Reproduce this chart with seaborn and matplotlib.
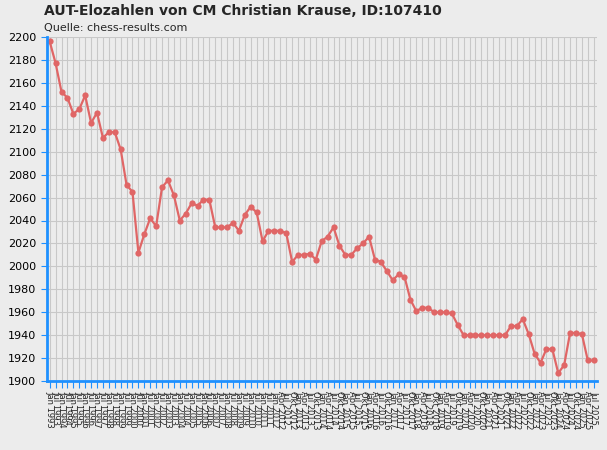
import matplotlib
matplotlib.use("Agg")
import matplotlib.pyplot as plt
import seaborn as sns
import pandas as pd

elo = [2196,2177,2152,2147,2133,2137,2149,2125,2134,2112,2117,2117,2102,2071,2065,2012,2028,2042,2035,2069,
       2075,2062,2040,2046,2055,2053,2058,2058,2034,2034,2034,2038,2031,2045,2052,2047,2022,2031,2031,2031,
       2029,2004,2010,2010,2011,2006,2022,2026,2034,2018,2010,2010,2016,2020,2026,2006,2004,1996,1988,1993,
       1991,1971,1961,1964,1964,1960,1960,1960,1959,1949,1940,1940,1940,1940,1940,1940,1940,1940,1948,
       1948,1954,1941,1924,1916,1928,1928,1907,1914,1942,1942,1941,1918,1918]
semi_years = list(range(1993, 2012))
quarter_years = list(range(2012, 2026))
labels = []
for y in semi_years:
    labels += [f"Jan {y}", f"Jul {y}"]
labels.append("Jan 2012")
for y in quarter_years:
    for m in ["Jan", "Apr", "Jul", "Okt"]:
        if y == 2012 and m == "Jan":
            continue
        labels.append(f"{m} {y}")
labels = labels[:len(elo)]

df = pd.DataFrame({"i": range(len(elo)), "elo": elo})
sns.set_style("whitegrid")
plt.rcParams['font.family'] = ['DejaVu Sans']
fig = plt.figure(figsize=(6.07, 4.5), dpi=100, facecolor="#ececec")
ax = fig.add_axes([0.077, 0.153, 0.906, 0.765])
ax.set_facecolor("#ececec")
sns.lineplot(data=df, x="i", y="elo", ax=ax, color="#e06666", lw=1.6, marker="o",
             markersize=4.5, markeredgewidth=0)
ax.set_xlim(-0.5, len(elo) - 0.5)
ax.set_ylim(1900, 2200)
ax.set_yticks(range(1900, 2201, 20))
ax.set_xticks(range(len(elo)))
ax.set_xticklabels(labels, rotation=270, fontsize=6)
ax.tick_params(axis="y", labelsize=8, colors="black", length=4, color="#1e90ff", left=True)
ax.tick_params(axis="x", length=5, color="#1e90ff", bottom=True, pad=2)
ax.grid(True, color="#c8c8c8", lw=0.8)
for s in ["top", "right"]:
    ax.spines[s].set_visible(False)
for s in ["left", "bottom"]:
    ax.spines[s].set_color("#1e90ff")
    ax.spines[s].set_linewidth(2)
ax.set_xlabel("")
ax.set_ylabel("")
fig.text(0.072, 0.966, "AUT-Elozahlen von CM Christian Krause, ID:107410", fontsize=10, fontweight="bold")
fig.text(0.072, 0.93, "Quelle: chess-results.com", fontsize=8)
fig.savefig("out.png", dpi=100, facecolor="#ececec")
